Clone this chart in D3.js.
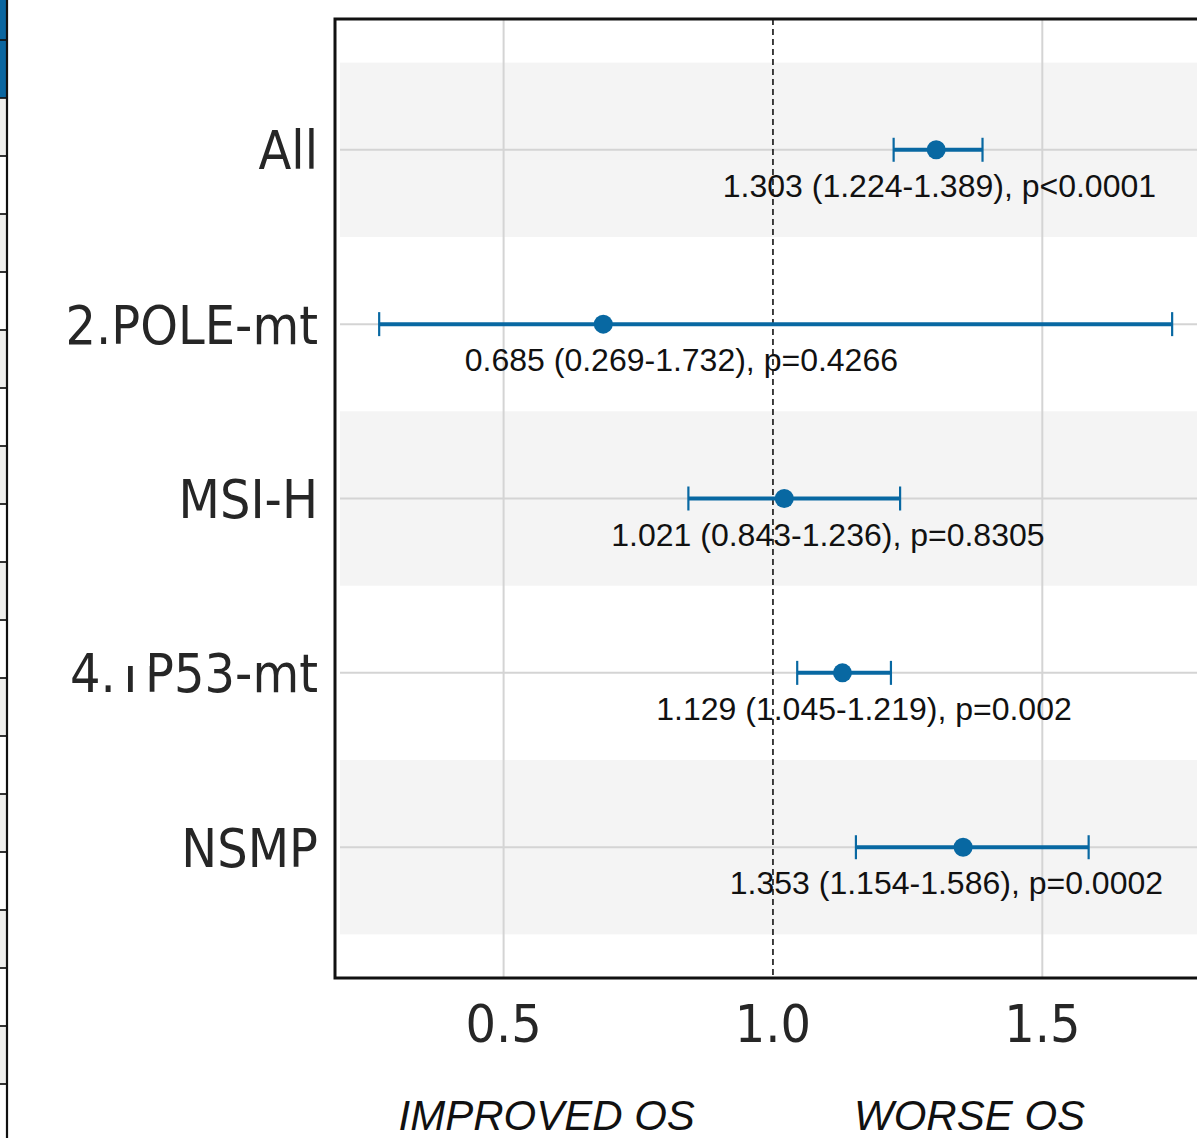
<!DOCTYPE html>
<html>
<head>
<meta charset="utf-8">
<script src="https://cdn.jsdelivr.net/npm/d3@7/dist/d3.min.js"></script>
<style>
body{margin:0;background:#fff}
</style>
</head>
<body>
<svg id="forest"></svg>
<script>
var groups = ["All","2.POLE-mt","MSI-H","4.TP53-mt","NSMP"]
var hr = [1.303,0.685,1.021,1.129,1.353]
var lower = [1.224,0.269,0.843,1.045,1.154]
var upper = [1.389,1.741,1.236,1.219,1.586]
var notes = ["1.303 (1.224-1.389), p<0.0001",
             "0.685 (0.269-1.732), p=0.4266",
             "1.021 (0.843-1.236), p=0.8305",
             "1.129 (1.045-1.219), p=0.002",
             "1.353 (1.154-1.586), p=0.0002"]
var noteAt = [1.309,0.830,1.102,1.169,1.322]
var xTicks = [0.5,1.0,1.5]
var sideLabels = ["IMPROVED OS","WORSE OS"]
var sideAt = [0.58,1.365]
// neighbouring panel, only its right edge is visible
var stripCells = ["hi","hi","alt","base","alt","base","alt","base","alt","base",
                  "alt","base","alt","base","alt","base","alt","base","alt","base"]

var width=1197, height=1138
var blue="#0868a2"
var rows = groups.map((g,i)=>({group:g,hr:hr[i],lo:lower[i],hi:upper[i],note:notes[i],at:noteAt[i],i:i}))

var svg = d3.select("#forest")
    .attr("width",width)
    .attr("height",height)

var x = d3.scaleLinear()
          .domain([0.187,1.8])
          .range([335,335+538.7*(1.8-0.187)])
var y = d3.scalePoint()
          .domain(groups)
          .range([19,978])
          .padding(0.75)
var step = y.step()

// left strip
var strip = svg.append("g")
strip.selectAll("rect")
     .data(stripCells)
     .enter()
     .append("rect")
     .attr("x",0)
     .attr("y",(d,i)=>-18+58*i)
     .attr("width",7)
     .attr("height",58)
     .attr("fill",d=>d==="hi"?"#0a66a0":(d==="alt"?"#efefed":"#ffffff"))
strip.selectAll("line")
     .data(stripCells)
     .enter()
     .append("line")
     .attr("x1",0).attr("x2",7)
     .attr("y1",(d,i)=>-18+58*i).attr("y2",(d,i)=>-18+58*i)
     .attr("stroke","#111").attr("stroke-width",1.7)
strip.append("line")
     .attr("x1",7).attr("x2",7).attr("y1",0).attr("y2",height)
     .attr("stroke","#111").attr("stroke-width",2.2)

var plot = svg.append("g")

plot.selectAll(".band")
    .data(rows.filter(d=>d.i%2===0))
    .enter()
    .append("rect")
    .classed("band",true)
    .attr("x",340)
    .attr("y",d=>y(d.group)-step/2)
    .attr("width",width)
    .attr("height",step)
    .attr("fill","#f4f4f4")

plot.selectAll(".hgrid")
    .data(rows)
    .enter()
    .append("line")
    .classed("hgrid",true)
    .attr("x1",340).attr("x2",width)
    .attr("y1",d=>y(d.group)).attr("y2",d=>y(d.group))
    .attr("stroke","#d4d4d4").attr("stroke-width",2)

plot.selectAll(".vgrid")
    .data(xTicks.filter(t=>t!==1))
    .enter()
    .append("line")
    .classed("vgrid",true)
    .attr("x1",d=>x(d)).attr("x2",d=>x(d))
    .attr("y1",19).attr("y2",978)
    .attr("stroke","#d4d4d4").attr("stroke-width",2)

plot.append("line")
    .attr("x1",x(1)).attr("x2",x(1))
    .attr("y1",19).attr("y2",978)
    .attr("stroke","#111").attr("stroke-width",1.6)
    .attr("stroke-dasharray","6,4")

var bars = plot.selectAll(".bar")
    .data(rows)
    .enter()
    .append("g")
    .classed("bar",true)
bars.append("line")
    .attr("x1",d=>x(d.lo)).attr("x2",d=>x(d.hi))
    .attr("y1",d=>y(d.group)).attr("y2",d=>y(d.group))
    .attr("stroke",blue).attr("stroke-width",4)
bars.append("line")
    .attr("x1",d=>x(d.lo)).attr("x2",d=>x(d.lo))
    .attr("y1",d=>y(d.group)-12).attr("y2",d=>y(d.group)+12)
    .attr("stroke",blue).attr("stroke-width",2.2)
bars.append("line")
    .attr("x1",d=>x(d.hi)).attr("x2",d=>x(d.hi))
    .attr("y1",d=>y(d.group)-12).attr("y2",d=>y(d.group)+12)
    .attr("stroke",blue).attr("stroke-width",2.2)
bars.append("circle")
    .attr("cx",d=>x(d.hr)).attr("cy",d=>y(d.group))
    .attr("r",9.5)
    .attr("fill",blue)

plot.selectAll(".note")
    .data(rows)
    .enter()
    .append("text")
    .classed("note",true)
    .attr("x",d=>x(d.at))
    .attr("y",d=>y(d.group)+47)
    .attr("text-anchor","middle")
    .attr("font-family","'Liberation Sans', Arial, sans-serif")
    .attr("font-size","32px")
    .attr("fill","#111")
    .text(d=>d.note)

// frame
plot.append("rect")
    .attr("x",335).attr("y",19)
    .attr("width",1000).attr("height",959)
    .attr("fill","none")
    .attr("stroke","#111").attr("stroke-width",3)

svg.selectAll(".ylab")
   .data(rows)
   .enter()
   .append("text")
   .classed("ylab",true)
   .attr("transform",d=>`translate(318,${y(d.group)}) scale(1,1.12)`)
   .attr("dy","0.365em")
   .attr("text-anchor","end")
   .attr("font-family","'DejaVu Sans', sans-serif")
   .attr("font-size","48px")
   .attr("fill","#262626")
   .text(d=>d.group)

// white patch sitting over the T in the reference
svg.append("rect")
   .attr("x",113).attr("y",640)
   .attr("width",37).attr("height",26)
   .attr("fill","#fff")

svg.selectAll(".xtick")
   .data(xTicks)
   .enter()
   .append("text")
   .classed("xtick",true)
   .attr("transform",d=>`translate(${x(d)},1042) scale(1,1.09)`)
   .attr("text-anchor","middle")
   .attr("font-family","'DejaVu Sans', sans-serif")
   .attr("font-size","48px")
   .attr("fill","#262626")
   .text(d=>d3.format(".1f")(d))

svg.selectAll(".side")
   .data(sideLabels)
   .enter()
   .append("text")
   .classed("side",true)
   .attr("x",(d,i)=>x(sideAt[i]))
   .attr("y",1130)
   .attr("text-anchor","middle")
   .attr("font-family","'Liberation Sans', Arial, sans-serif")
   .attr("font-style","italic")
   .attr("font-size","42px")
   .attr("fill","#111")
   .text(d=>d)
</script>
</body>
</html>
